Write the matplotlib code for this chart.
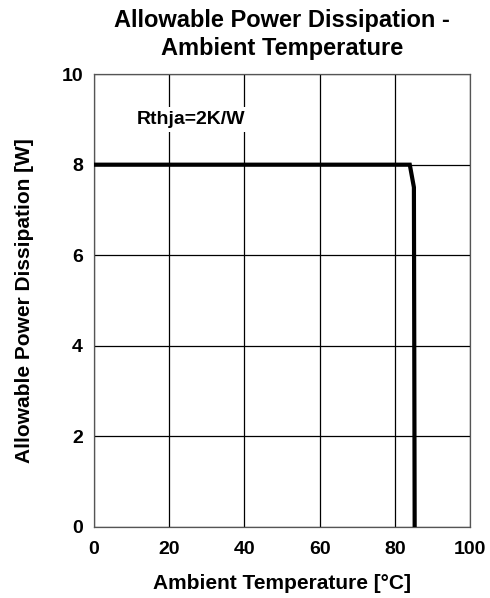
import matplotlib
matplotlib.use("Agg")
import matplotlib.pyplot as plt

# derating curve
temp = [0, 84.0, 85.1, 85.3]
power = [8, 8, 7.5, 0]

xticks = [0, 20, 40, 60, 80, 100]
yticks = [0, 2, 4, 6, 8, 10]

plt.rcParams['font.family'] = ['Liberation Sans', 'DejaVu Sans']
plt.rcParams['font.weight'] = 'bold'

fig = plt.figure(figsize=(4.9, 5.98), dpi=100)
ax = fig.add_axes([0.192, 0.119, 0.767, 0.757])

ax.plot(temp, power, color='black', linewidth=3, zorder=3, solid_joinstyle='miter')

ax.set_xlim(0, 100)
ax.set_ylim(0, 10)
ax.set_xticks(xticks)
ax.set_yticks(yticks)
ax.tick_params(length=0, labelsize=14)
ax.tick_params(axis='x', pad=10)
ax.tick_params(axis='y', pad=8)
for lab in ax.get_xticklabels() + ax.get_yticklabels():
    lab.set_fontweight('bold')
ax.grid(True, color='black', linewidth=0.9)
ax.set_axisbelow(True)
for s in ax.spines.values():
    s.set_linewidth(0.9)
    s.set_color('#555555')

ax.text(11.4, 9.0, 'Rthja=2K/W', fontsize=14, fontweight='bold', va='center', ha='left',
        bbox=dict(facecolor='white', edgecolor='none', pad=3), zorder=4)

ax.set_xlabel('Ambient Temperature [°C]', fontsize=15, fontweight='bold', labelpad=12)
ax.set_ylabel('Allowable Power Dissipation [W]', fontsize=15, fontweight='bold', labelpad=20)
ax.set_title('Allowable Power Dissipation -\nAmbient Temperature', fontsize=17, fontweight='bold',
             linespacing=1.25, pad=14)

fig.savefig('out.png', dpi=100)
